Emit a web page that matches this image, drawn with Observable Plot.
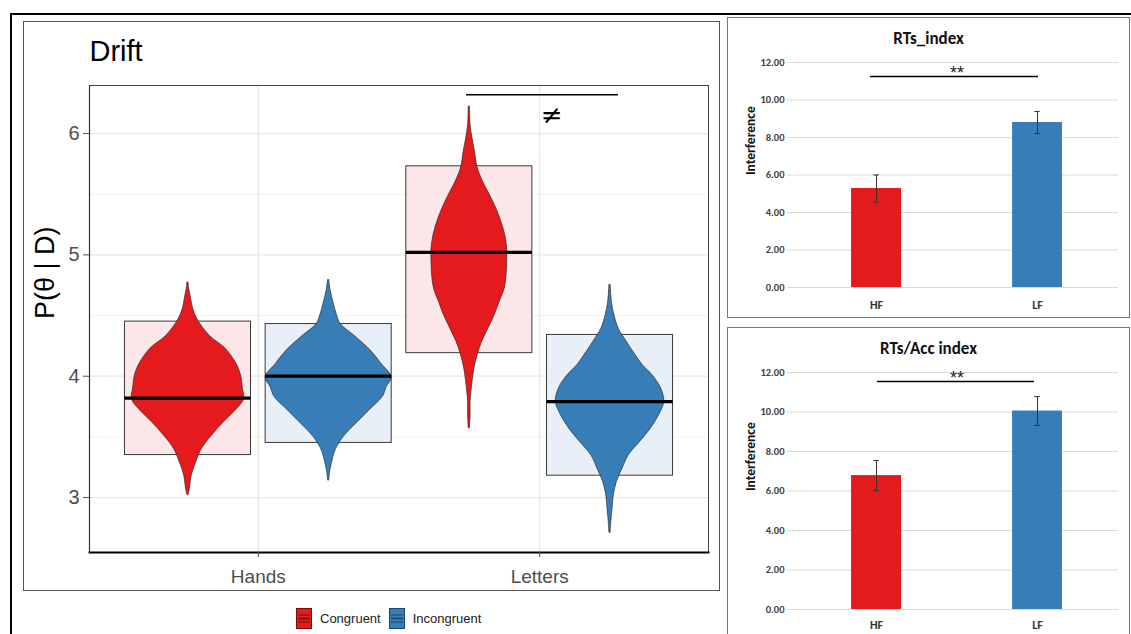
<!DOCTYPE html>
<html><head><meta charset="utf-8">
<script src="https://cdn.jsdelivr.net/npm/d3@7"></script>
<script src="https://cdn.jsdelivr.net/npm/@observablehq/plot@0.6"></script>
<style>
html,body{margin:0;padding:0;background:#fff;}
#fig{position:relative;width:1131px;height:634px;overflow:hidden;background:#fff;}
.frame{position:absolute;box-sizing:border-box;pointer-events:none;}
#legend{position:absolute;left:296px;top:608px;height:21px;display:flex;align-items:center;font-family:"Liberation Sans",Arial,sans-serif;font-size:13px;color:#222;}
#legend svg{display:block}
</style></head><body><div id="fig"></div>
<script>
// ---------- Drift (left panel) data ----------
const categories = ["Hands", "Letters"];
const conditions = ["Congruent", "Incongruent"];
const conditionColors = ["#e41a1c", "#377eb8"];
const boxFills = ["#fce6e7", "#e8eff7"];
const groupCategory = ["Hands", "Hands", "Letters", "Letters"];
const groupCondition = ["Congruent", "Incongruent", "Congruent", "Incongruent"];
const groupMean = [3.82, 4.00, 5.02, 3.79];
const groupLow = [3.35, 3.45, 4.19, 3.18];
const groupHigh = [4.45, 4.43, 5.73, 4.34];

// violin density profiles (value, relative density)
const violinHandsCongY = [4.77,4.72,4.64,4.56,4.46,4.33,4.23,4.11,4.01,3.90,3.81,3.73,3.62,3.51,3.40,3.29,3.18,3.07,3.02];
const violinHandsCongD = [0.01,0.02,0.05,0.08,0.16,0.35,0.59,0.76,0.84,0.87,0.89,0.78,0.57,0.38,0.22,0.13,0.06,0.03,0.01];
const violinHandsIncY = [4.79,4.71,4.60,4.49,4.43,4.32,4.21,4.10,3.99,3.91,3.83,3.72,3.61,3.50,3.39,3.28,3.20,3.14];
const violinHandsIncD = [0.01,0.03,0.08,0.14,0.19,0.44,0.67,0.84,1.00,0.92,0.86,0.65,0.44,0.24,0.11,0.05,0.02,0.01];
const violinLettersCongY = [6.22,6.07,5.96,5.85,5.72,5.60,5.49,5.38,5.27,5.16,5.05,4.94,4.83,4.72,4.61,4.50,4.39,4.28,4.17,4.06,3.95,3.79,3.68,3.57];
const violinLettersCongD = [0.01,0.02,0.05,0.09,0.13,0.22,0.33,0.43,0.51,0.57,0.60,0.60,0.59,0.56,0.48,0.40,0.30,0.20,0.13,0.08,0.05,0.02,0.02,0.01];
const violinLettersIncY = [4.75,4.61,4.50,4.39,4.28,4.17,4.09,4.01,3.90,3.79,3.68,3.57,3.46,3.35,3.24,3.13,3.02,2.91,2.80,2.71];
const violinLettersIncD = [0.01,0.03,0.07,0.14,0.27,0.41,0.52,0.67,0.81,0.86,0.78,0.65,0.48,0.30,0.20,0.11,0.06,0.04,0.02,0.01];

const driftTicks = [3, 4, 5, 6];
const driftMinorTicks = [3.5, 4.5, 5.5];
const driftTitle = "Drift";
const driftYLabel = "P(θ | D)";
const driftSigLabel = "≠";
const driftSigCategory = "Letters";

// ---------- Bar panels data ----------
const barCategories = ["HF", "LF"];
const rtsIndexMean = [5.28, 8.80];
const rtsIndexErr = [0.72, 0.59];
const rtsAccMean = [6.78, 10.05];
const rtsAccErr = [0.76, 0.73];
const barTicks = [0, 2, 4, 6, 8, 10, 12];
const barYLabel = "Interference";
const barSigLabel = "**";

// ---------- helpers ----------
const fig = document.getElementById("fig");
function place(el, left, top) {
  el.style.position = "absolute";
  el.style.left = left + "px";
  el.style.top = top + "px";
  el.style.background = "transparent";
  el.style.maxWidth = "none";
  fig.appendChild(el);
}
const sans = '"Liberation Sans",Arial,sans-serif';

// ---------- Drift plot ----------
const dodge = 0.25, boxHalf = 0.224, violinScale = 0.224;
const groups = groupCategory.map((c, i) => ({
  category: c, condition: groupCondition[i], mean: groupMean[i], low: groupLow[i], high: groupHigh[i],
  x: categories.indexOf(c) + 1 + (conditions.indexOf(groupCondition[i]) === 0 ? -dodge : dodge),
  ci: conditions.indexOf(groupCondition[i])
}));
const violinSets = [
  [violinHandsCongY, violinHandsCongD],
  [violinHandsIncY, violinHandsIncD],
  [violinLettersCongY, violinLettersCongD],
  [violinLettersIncY, violinLettersIncD]
];
const violinMarks = violinSets.map(([ys, ds], i) => {
  const g = groups[i];
  const rows = ys.map((v, j) => ({v, d: ds[j]}));
  return Plot.areaX(rows, {
    y: "v", x1: d => g.x - d.d * violinScale, x2: d => g.x + d.d * violinScale,
    fill: conditionColors[g.ci], stroke: "#2b2b2b", strokeWidth: 0.7, curve: "catmull-rom"
  });
});
const sigGroups = groups.filter(g => g.category === driftSigCategory);
const sigLevel = d3.max(violinLettersCongY) + 0.1;
const sigX = categories.indexOf(driftSigCategory) + 1;

const drift = Plot.plot({
  width: 696, height: 569,
  marginLeft: 66, marginRight: 11, marginTop: 64, marginBottom: 38,
  x: {domain: [0.4, 2.6]},
  y: {domain: [2.547, 6.396]},
  style: {fontFamily: sans, background: "transparent", overflow: "visible"},
  marks: [
    Plot.gridY(driftMinorTicks, {stroke: "#f2f2f2", strokeOpacity: 1, strokeWidth: 1}),
    Plot.gridY(driftTicks, {stroke: "#e8e8e8", strokeOpacity: 1, strokeWidth: 1.3}),
    Plot.gridX([1, 2], {stroke: "#e8e8e8", strokeOpacity: 1, strokeWidth: 1.3}),
    Plot.rect(groups.filter(g => g.ci === 0), {x1: d => d.x - boxHalf, x2: d => d.x + boxHalf, y1: "low", y2: "high", fill: boxFills[0], stroke: "#3a3a3a", strokeWidth: 1}),
    Plot.rect(groups.filter(g => g.ci === 1), {x1: d => d.x - boxHalf, x2: d => d.x + boxHalf, y1: "low", y2: "high", fill: boxFills[1], stroke: "#3a3a3a", strokeWidth: 1}),
    ...violinMarks,
    Plot.ruleY(groups, {y: "mean", x1: d => d.x - boxHalf, x2: d => d.x + boxHalf, stroke: "#000", strokeWidth: 3.2}),
    Plot.frame({stroke: "#444", strokeWidth: 1}),
    Plot.frame({anchor: "bottom", stroke: "#000", strokeWidth: 2}),
    Plot.frame({anchor: "left", stroke: "#333", strokeWidth: 1.2}),
    Plot.axisY(driftTicks, {tickSize: 6, tickPadding: 4, tickFormat: d3.format("d"), fontSize: 20, color: "#4d4d4d", label: null}),
    Plot.axisX([1, 2], {tickFormat: d => categories[d - 1], tickSize: 5, tickPadding: 12, fontSize: 19, color: "#4d4d4d", label: null}),
    Plot.text([driftTitle], {text: d => d, frameAnchor: "top-left", textAnchor: "start", lineAnchor: "middle", dy: -34, dx: 0, fontSize: 29, fill: "#000"}),
    Plot.text([driftYLabel], {text: d => d, frameAnchor: "left", rotate: -90, dx: -44, fontSize: 27, fill: "#000"}),
    Plot.ruleY([sigLevel], {x1: sigGroups[0].x - 0.01, x2: sigGroups[1].x + 0.03, stroke: "#000", strokeWidth: 1.5}),
    Plot.text([driftSigLabel], {text: d => d, x: sigX, y: sigLevel, dx: 12, dy: 21, fontSize: 26, fill: "#000", fontFamily: '"DejaVu Sans",sans-serif'})
  ]
});
place(drift, 23, 21);

// ---------- Bar charts ----------
function barChart({title, means, errs, height, marginTop, marginBottom, sigLevel, sigX1, sigX2, xPad}) {
  const rows = barCategories.map((c, i) => ({cat: c, pos: i + 1, mean: means[i], err: errs[i], color: conditionColors[i]}));
  const half = 0.155, cap = 0.017;
  return Plot.plot({
    width: 402, height,
    marginLeft: 60, marginRight: 11, marginTop, marginBottom,
    x: {domain: [0.447, 2.503]},
    y: {domain: [0, 12]},
    color: {type: "identity"},
    style: {fontFamily: '"Carlito","Liberation Sans",sans-serif', fontWeight: "bold", background: "transparent", overflow: "visible"},
    marks: [
      Plot.gridY(barTicks, {stroke: "#d9d9d9", strokeOpacity: 1, strokeWidth: 1}),
      Plot.rectY(rows, {x1: d => d.pos - half, x2: d => d.pos + half, y1: 0, y2: "mean", fill: "color"}),
      Plot.ruleX(rows, {x: "pos", y1: d => d.mean - d.err, y2: d => d.mean + d.err, stroke: "#333", strokeWidth: 1}),
      Plot.ruleY(rows, {y: d => d.mean + d.err, x1: d => d.pos - cap, x2: d => d.pos + cap, stroke: "#333", strokeWidth: 1}),
      Plot.ruleY(rows, {y: d => d.mean - d.err, x1: d => d.pos - cap, x2: d => d.pos + cap, stroke: "#333", strokeWidth: 1}),
      Plot.axisY(barTicks, {tickSize: 0, tickPadding: 3, tickFormat: d3.format(".2f"), fontSize: 10.5, color: "#404040", label: null}),
      Plot.axisX([1, 2], {tickFormat: d => barCategories[d - 1], tickSize: 0, tickPadding: xPad, fontSize: 12, color: "#333", label: null}),
      Plot.text([title], {text: d => d, frameAnchor: "top", dx: -24.5, dy: -24, lineAnchor: "middle", fontSize: 17, fill: "#111"}),
      Plot.text([barYLabel], {text: d => d, frameAnchor: "left", rotate: -90, dx: -37, fontSize: 13.5, fill: "#111"}),
      Plot.ruleY([sigLevel], {x1: sigX1, x2: sigX2, stroke: "#000", strokeWidth: 1.5}),
      Plot.text([barSigLabel], {text: d => d, x: 1.5, y: sigLevel, dy: -3, fontSize: 18, fill: "#222", fontWeight: "normal", fontFamily: '"Liberation Sans",sans-serif'})
    ]
  });
}
const rtsIndex = barChart({title: "RTs_index", means: rtsIndexMean, errs: rtsIndexErr, height: 300, marginTop: 45, marginBottom: 30, sigLevel: 11.25, sigX1: 0.963, sigX2: 2.006, xPad: 13});
place(rtsIndex, 727, 17);
const rtsAcc = barChart({title: "RTs/Acc index", means: rtsAccMean, errs: rtsAccErr, height: 306, marginTop: 44, marginBottom: 25, sigLevel: 11.54, sigX1: 1.006, sigX2: 1.981, xPad: 11});
place(rtsAcc, 727, 328);

// ---------- Legend ----------
const legend = document.createElement("div");
legend.id = "legend";
conditions.forEach((c, i) => {
  const dark = i === 0 ? "#7a0b0c" : "#1d4466";
  const key = `<svg width="16" height="21"><rect x="0.5" y="0.5" width="15" height="20" fill="${conditionColors[i]}" stroke="${dark}"/>` +
    `<line x1="2" x2="14" y1="7" y2="7" stroke="${dark}" stroke-width="1"/>` +
    `<line x1="2" x2="14" y1="10.5" y2="10.5" stroke="${dark}" stroke-width="1.5"/>` +
    `<line x1="2" x2="14" y1="14" y2="14" stroke="${dark}" stroke-width="1"/></svg>`;
  const item = document.createElement("div");
  item.style.display = "flex"; item.style.alignItems = "center";
  item.style.marginRight = i === 0 ? "8px" : "0";
  item.innerHTML = key + `<span style="margin-left:8px">${c}</span>`;
  legend.appendChild(item);
});
fig.appendChild(legend);

// ---------- Panel frames (decoration) ----------
function frameDiv(left, top, width, height, css) {
  const d = document.createElement("div");
  d.className = "frame";
  Object.assign(d.style, {left: left + "px", top: top + "px", width: width + "px", height: height + "px"}, css);
  fig.appendChild(d);
}
frameDiv(10, 13, 1200, 700, {borderTop: "2.5px solid #000", borderLeft: "2.5px solid #000"});
frameDiv(23, 21, 697, 570, {border: "1px solid #555"});
frameDiv(727, 17, 403, 301, {border: "1.5px solid #777"});
frameDiv(727, 327, 403, 330, {border: "1.5px solid #777"});
</script></body></html>
